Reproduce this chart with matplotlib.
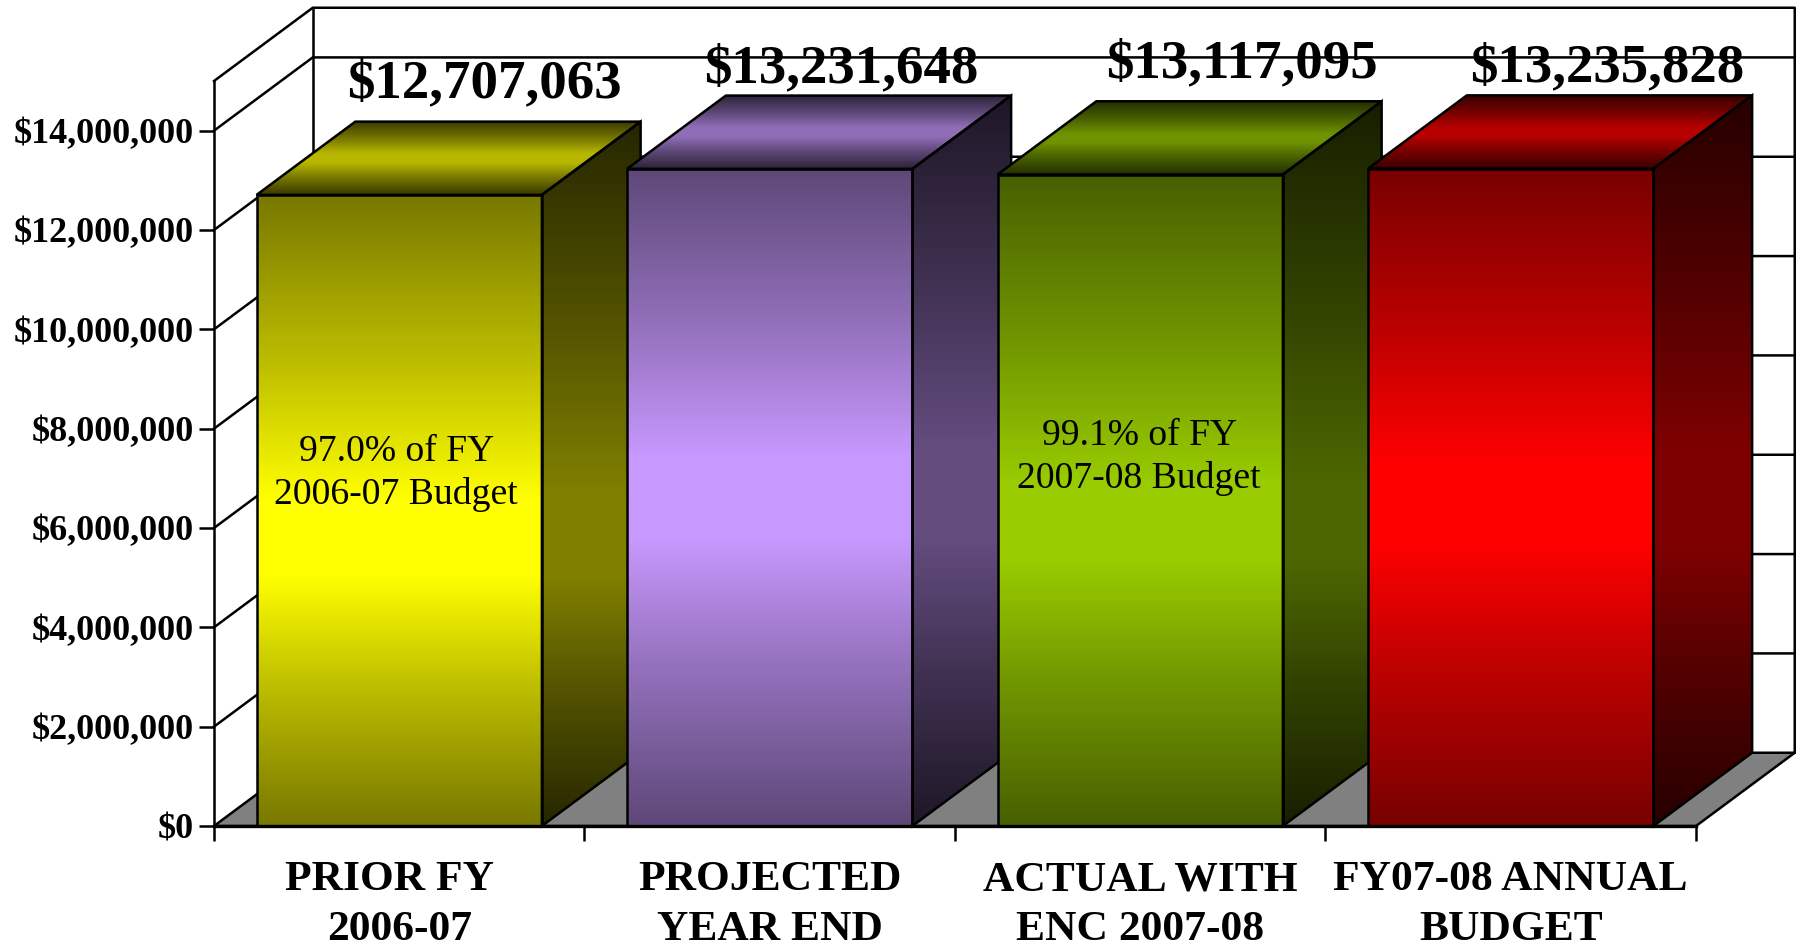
import numpy as np
import matplotlib
matplotlib.use("Agg")
import matplotlib.pyplot as plt
from matplotlib.patches import Polygon

plt.rcParams['font.family'] = ['Liberation Serif', 'DejaVu Serif']

categories = ['PRIOR FY  \n2006-07', 'PROJECTED\nYEAR END', 'ACTUAL WITH\nENC 2007-08', 'FY07-08 ANNUAL\nBUDGET']
values = [12707063, 13231648, 13117095, 13235828]
value_labels = ['$12,707,063', '$13,231,648', '$13,117,095', '$13,235,828']
notes = ['97.0% of FY\n2006-07 Budget', None, '99.1% of FY\n2007-08 Budget', None]
y_ticks = [0, 2000000, 4000000, 6000000, 8000000, 10000000, 12000000, 14000000]
y_tick_labels = ['$0', '$2,000,000', '$4,000,000', '$6,000,000', '$8,000,000',
                 '$10,000,000', '$12,000,000', '$14,000,000']
bar_colors = ['#ffff00', '#c899ff', '#99cc00', '#ff0000']

# layout, measured in pixels of the 1799x949 picture
W, H = 1799, 949
LEFT, RIGHT, BOTTOM, TOP = 214, 1696, 826, 81
DEPTH_X = 0.2665         # x units
DEPTH_Y = 1475000        # y units
BAR_W = 0.77
Y_MAX = 15000000
LABEL_OFFSETS = [(85, 111), (72, 99.5), (102, 110.5), (96, 100)]
NOTE_OFFSETS = [(-3, 30), None, (-1, 46), None]
PEAKS = [0.45, 0.50, 0.46, 0.49]   # height of brightest band on the front, 0 bottom 1 top
LW = 1.8


def shade(color, k):
    return np.array(matplotlib.colors.to_rgb(color)) * k


def gradient_face(ax, pts, mid, end, z, peak=0.5):
    # vertical dark-bright-dark ramp clipped to the face, flat around the peak
    pts = np.array(pts)
    pos = np.linspace(0, 1, 256)
    t = np.where(pos < peak, (peak - pos) / peak, (pos - peak) / (1 - peak))
    k = np.interp(t, [0, 0.12, 0.5, 1], [1, 1, 0.53, 0])[:, None, None]
    img = mid[None, None, :] * k + end[None, None, :] * (1 - k)
    face = Polygon(pts, closed=True, facecolor='none', edgecolor='black', linewidth=LW,
                   joinstyle='miter', clip_on=False, zorder=z + 0.1)
    ax.add_patch(face)
    im = ax.imshow(img, extent=(pts[:, 0].min(), pts[:, 0].max(), pts[:, 1].min(), pts[:, 1].max()),
                   origin='lower', aspect='auto', interpolation='bilinear', zorder=z)
    im.set_clip_box(ax.figure.bbox)
    im.set_clip_path(face)


fig = plt.figure(figsize=(W / 100, H / 100), dpi=100, facecolor='white')
ax = fig.add_axes([LEFT / W, 1 - BOTTOM / H, (RIGHT - LEFT) / W, (BOTTOM - TOP) / H])
ax.patch.set_visible(False)

# walls and floor
x0, x1 = -0.5, 3.5
ax.add_patch(Polygon([(x0, 0), (x1, 0), (x1 + DEPTH_X, DEPTH_Y), (x0 + DEPTH_X, DEPTH_Y)],
                     closed=True, facecolor='#808080', edgecolor='black', linewidth=LW,
                     clip_on=False, zorder=1))
wall_x = [x0, x0 + DEPTH_X, x1 + DEPTH_X, x1 + DEPTH_X]
wall_y = [Y_MAX, Y_MAX + DEPTH_Y, Y_MAX + DEPTH_Y, DEPTH_Y]
ax.plot(wall_x, wall_y, color='black', lw=LW, clip_on=False, zorder=1)
ax.plot([x0 + DEPTH_X, x0 + DEPTH_X], [DEPTH_Y, Y_MAX + DEPTH_Y], color='black', lw=LW, clip_on=False, zorder=1)
for v in y_ticks[1:]:
    ax.plot([x0, x0 + DEPTH_X, x1 + DEPTH_X], [v, v + DEPTH_Y, v + DEPTH_Y],
            color='black', lw=LW, clip_on=False, zorder=1)

# bars
for i, (v, c) in enumerate(zip(values, bar_colors)):
    a, b = i - BAR_W / 2, i + BAR_W / 2
    z = 2 + i
    gradient_face(ax, [(a, 0), (b, 0), (b, v), (a, v)], shade(c, 1.0), shade(c, 0.47), z, PEAKS[i])
    gradient_face(ax, [(b, 0), (b + DEPTH_X, DEPTH_Y), (b + DEPTH_X, v + DEPTH_Y), (b, v)],
                  shade(c, 0.5), shade(c, 0.15), z, PEAKS[i] - 0.05)
    gradient_face(ax, [(a, v), (b, v), (b + DEPTH_X, v + DEPTH_Y), (a + DEPTH_X, v + DEPTH_Y)],
                  shade(c, 0.72), shade(c, 0.22), z)
    ax.annotate(value_labels[i], xy=(i, v), xytext=LABEL_OFFSETS[i], textcoords='offset pixels',
                ha='center', va='center', fontsize=39.5, fontweight='bold', color='black',
                annotation_clip=False, zorder=20)
    if notes[i]:
        ax.annotate(notes[i], xy=(i, 6500000), xytext=NOTE_OFFSETS[i], textcoords='offset pixels',
                    ha='center', va='center', fontsize=27.1, color='black', zorder=20, linespacing=1.3)

ax.set_xlim(x0, x1)
ax.set_ylim(0, Y_MAX)

ax.set_yticks(y_ticks)
ax.set_yticklabels(y_tick_labels, fontsize=26, fontweight='bold')
ax.set_xticks(np.arange(x0, x1 + 1))
ax.set_xticklabels([])
ax.set_xticks(range(len(categories)), minor=True)
ax.set_xticklabels(categories, minor=True, fontsize=31.3, fontweight='bold', linespacing=1.4)
ax.tick_params(axis='x', which='minor', length=0, pad=25.5)
ax.tick_params(axis='both', which='major', length=10.8, width=LW)
ax.tick_params(axis='y', pad=3.5)

for s in ('top', 'right'):
    ax.spines[s].set_visible(False)
ax.spines['left'].set_linewidth(LW)
ax.spines['bottom'].set_linewidth(2.4)
ax.spines['left'].set_zorder(15)
ax.spines['bottom'].set_zorder(15)

fig.savefig('out.png', dpi=100)
